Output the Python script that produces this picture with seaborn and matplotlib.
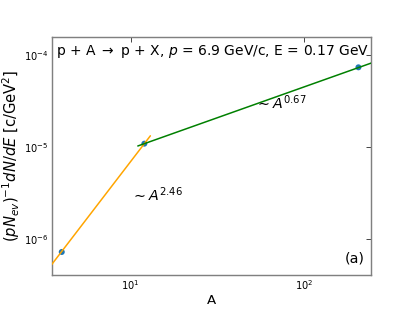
import numpy as np
import matplotlib
matplotlib.use("Agg")
import matplotlib.pyplot as plt
import seaborn as sns

# data
mass_number = [4.0, 12.0, 207.0]
yield_per_event = [7.2e-7, 1.09e-5, 7.4e-5]
slope_low = 2.46
slope_high = 0.67
fit_low_range = [3.0, 13.0]
fit_high_range = [11.0, 300.0]

sns.set_style("white")
plt.rcParams['font.family'] = ['DejaVu Sans']
plt.rcParams['text.color'] = 'black'
plt.rcParams['axes.labelcolor'] = 'black'

fig, ax = plt.subplots(figsize=(6.4, 4.8), dpi=412 / 6.4)

sns.scatterplot(x=mass_number, y=yield_per_event, ax=ax, color='tab:blue',
                s=45, edgecolor='none', zorder=2)

# power-law lines through the measured points
a_lo = np.linspace(fit_low_range[0], fit_low_range[1], 50)
y_lo = yield_per_event[1] * (a_lo / mass_number[1]) ** slope_low
a_hi = np.linspace(fit_high_range[0], fit_high_range[1], 50)
y_hi = yield_per_event[1] * (a_hi / mass_number[1]) ** slope_high
sns.lineplot(x=a_lo, y=y_lo, ax=ax, color='orange', lw=1.7, zorder=3, sort=False)
sns.lineplot(x=a_hi, y=y_hi, ax=ax, color='green', lw=1.7, zorder=3, sort=False)

ax.set_xscale('log')
ax.set_yscale('log')
ax.set_xlim(3.49, 244)
ax.set_ylim(4.04e-7, 1.58e-4)
ax.minorticks_off()
ax.tick_params(direction='in', which='both', top=True, right=True,
               length=6, width=1, labelsize=11, color='0.2', labelcolor='black')
for sp in ax.spines.values():
    sp.set_color('grey')
    sp.set_linewidth(1.6)

ax.set_xlabel('A', fontsize=15, labelpad=2)
ax.set_ylabel(r'$(pN_{ev})^{-1}dN/dE$ [c/GeV$^2$]', fontsize=16.5, labelpad=2)

ax.text(0.015, 0.94, r'p + A $\rightarrow$ p + X, $p$ = 6.9 GeV/c, E = 0.17 GeV',
        transform=ax.transAxes, fontsize=15.5, va='center', ha='left')
ax.text(10.1, 2.6e-6, r'$\sim A^{2.46}$', fontsize=16)
ax.text(52, 2.6e-5, r'$\sim A^{0.67}$', fontsize=16)
ax.text(0.98, 0.04, '(a)', transform=ax.transAxes, fontsize=16, ha='right', va='bottom')

fig.savefig('out.png', dpi=412 / 6.4)
